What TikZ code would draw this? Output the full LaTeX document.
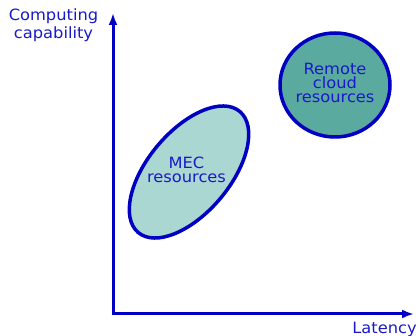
\documentclass[tikz,border=0pt]{standalone}
\usepackage{fontspec}
\setmainfont{DejaVu Sans}[FakeStretch=1.05]
\usetikzlibrary{arrows.meta}
\definecolor{axisblue}{RGB}{0,0,195}
\definecolor{txtblue}{RGB}{25,25,200}
\definecolor{cloudfill}{RGB}{90,170,160}
\definecolor{mecfill}{RGB}{170,215,210}
\tikzset{
  axisline/.style={draw=axisblue, line width=3pt, -{Latex[length=12pt,width=9pt]}},
  resource/.style={draw=axisblue, line width=3.5pt},
  lbl/.style={text=txtblue, font=\fontsize{15.5pt}{14pt}\selectfont, align=center, inner sep=0pt},
}
\begin{document}
\begin{tikzpicture}[x=1pt,y=-1pt]
\useasboundingbox (0,0) rectangle (420,336);
\coordinate (origin) at (113,314);
\coordinate (ytop) at (113,13);
\coordinate (xend) at (414,314);
\draw[axisline] (origin) -- (ytop);
\draw[axisline, shorten <=-1.5pt] (origin) -- (xend);
% remote cloud
\draw[resource, fill=cloudfill] (335,85) ellipse [x radius=55, y radius=52];
\node[lbl] (cloud) at (335,83.3) {Remote\\cloud\\resources};
% MEC
\draw[resource, fill=mecfill, rotate around={50:(189,172)}] (189,172) ellipse [x radius=79, y radius=41];
\node[lbl] (mec) at (186.5,170.3) {MEC\\resources};
% axis labels
\node[lbl, font=\fontsize{15.5pt}{17.5pt}\selectfont] (ylab) at (53.5,25.2) {Computing\\capability};
\node[lbl, anchor=base] (xlab) at (384.5,333.3) {Latency};
\end{tikzpicture}
\end{document}
